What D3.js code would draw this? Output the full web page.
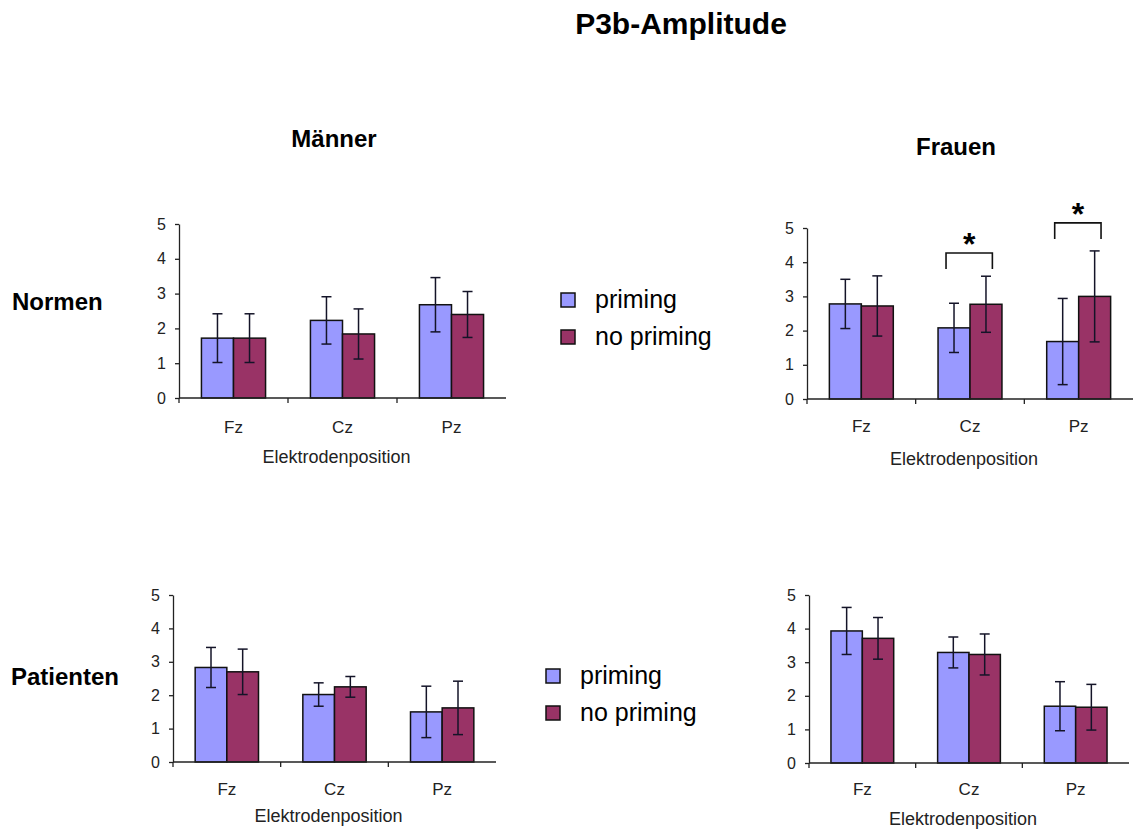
<!DOCTYPE html>
<html>
<head>
<meta charset="utf-8">
<script src="https://cdn.jsdelivr.net/npm/d3@7"></script>
<style>
  body { margin: 0; background: #fff; }
  svg { font-family: "Liberation Sans", Arial, sans-serif; }
  .axis path, .axis line { stroke: #222; stroke-width: 1.3; }
  .axis text { fill: #222; font-size: 16px; }
</style>
</head>
<body>
<svg width="1137" height="829"></svg>
<script>
const categories = ['Fz', 'Cz', 'Pz'];
const series = ['priming', 'no priming'];
const colors = ['#9999ff', '#993366'];
const yTicks = [0, 1, 2, 3, 4, 5];

// mean values, [priming, no priming] per electrode
const maennerNormen    = [[1.72, 1.72], [2.23, 1.84], [2.68, 2.40]];
const maennerNormenErr = [[0.70, 0.70], [0.68, 0.72], [0.78, 0.66]];
const frauenNormen     = [[2.78, 2.72], [2.08, 2.77], [1.68, 3.00]];
const frauenNormenErr  = [[0.72, 0.88], [0.72, 0.82], [1.26, 1.33]];
const maennerPat       = [[2.83, 2.70], [2.02, 2.25], [1.50, 1.62]];
const maennerPatErr    = [[0.60, 0.68], [0.35, 0.31], [0.77, 0.80]];
const frauenPat        = [[3.93, 3.71], [3.29, 3.23], [1.69, 1.66]];
const frauenPatErr     = [[0.70, 0.62], [0.46, 0.61], [0.73, 0.68]];

// significance brackets in Frauen/Normen: category, leg bottom, bracket top
const signif = [{cat: 'Cz', low: 3.80, high: 4.27}, {cat: 'Pz', low: 4.68, high: 5.15}];

const svg = d3.select('svg');

svg.append('text').attr('x', 681).attr('y', 34).attr('text-anchor', 'middle')
  .attr('font-size', 30).attr('font-weight', 'bold').text('P3b-Amplitude');
svg.append('text').attr('x', 334).attr('y', 147).attr('text-anchor', 'middle')
  .attr('font-size', 24).attr('font-weight', 'bold').text('Männer');
svg.append('text').attr('x', 956).attr('y', 155).attr('text-anchor', 'middle')
  .attr('font-size', 24).attr('font-weight', 'bold').text('Frauen');
svg.append('text').attr('x', 12).attr('y', 310)
  .attr('font-size', 24).attr('font-weight', 'bold').text('Normen');
svg.append('text').attr('x', 11).attr('y', 685)
  .attr('font-size', 24).attr('font-weight', 'bold').text('Patienten');

function panel(p) {
  const g = svg.append('g');
  const x = d3.scaleBand().domain(categories).range([p.left, p.right]);
  const x1 = d3.scaleBand().domain(series).range([0, x.bandwidth()]).paddingOuter(0.7);
  const y = d3.scaleLinear().domain([0, 5]).range([p.bottom, p.top]);

  const rows = [];
  categories.forEach((c, i) => series.forEach((s, j) => {
    rows.push({cat: c, ser: s, j: j, v: p.values[i][j], e: p.errors[i][j]});
  }));

  g.selectAll('rect.bar').data(rows).enter().append('rect')
    .attr('class', 'bar')
    .attr('x', d => x(d.cat) + x1(d.ser))
    .attr('y', d => y(d.v))
    .attr('width', x1.bandwidth())
    .attr('height', d => y(0) - y(d.v))
    .attr('fill', d => colors[d.j])
    .attr('stroke', '#111').attr('stroke-width', 1.5);

  const cap = 5;
  const eb = g.selectAll('g.err').data(rows).enter().append('g')
    .attr('stroke', '#141428').attr('stroke-width', 1.5);
  const cx = d => x(d.cat) + x1(d.ser) + x1.bandwidth() / 2;
  eb.append('line').attr('x1', cx).attr('x2', cx)
    .attr('y1', d => y(d.v - d.e)).attr('y2', d => y(d.v + d.e));
  eb.append('line').attr('x1', d => cx(d) - cap).attr('x2', d => cx(d) + cap)
    .attr('y1', d => y(d.v + d.e)).attr('y2', d => y(d.v + d.e));
  eb.append('line').attr('x1', d => cx(d) - cap).attr('x2', d => cx(d) + cap)
    .attr('y1', d => y(d.v - d.e)).attr('y2', d => y(d.v - d.e));

  g.append('g').attr('class', 'axis')
    .attr('transform', `translate(${p.left},0)`)
    .call(d3.axisLeft(y).tickValues(yTicks).tickFormat(d3.format('d'))
      .tickSize(4).tickPadding(9).tickSizeOuter(0));

  const xa = g.append('g').attr('class', 'axis')
    .attr('transform', `translate(0,${p.bottom})`);
  xa.append('line').attr('x1', p.left).attr('x2', p.right);
  xa.selectAll('line.tk').data(categories).enter().append('line')
    .attr('x1', d => x(d)).attr('x2', d => x(d)).attr('y1', 0).attr('y2', 5);
  xa.selectAll('text').data(categories).enter().append('text')
    .attr('x', d => x(d) + x.bandwidth() / 2).attr('y', p.catY - p.bottom)
    .attr('text-anchor', 'middle').style('font-size', '17px').text(d => d);

  g.append('text').attr('x', (p.left + p.right) / 2 - 6).attr('y', p.titleY)
    .attr('text-anchor', 'middle').attr('font-size', 18).attr('fill', '#222')
    .text('Elektrodenposition');

  if (p.signif) {
    p.signif.forEach(s => {
      const xl = x(s.cat) + x1('priming') + x1.bandwidth() * 0.25;
      const xr = x(s.cat) + x1('no priming') + x1.bandwidth() * 0.7;
      g.append('path')
        .attr('d', `M${xl},${y(s.low)}V${y(s.high)}H${xr}V${y(s.low)}`)
        .attr('fill', 'none').attr('stroke', '#111').attr('stroke-width', 1.6);
      g.append('text').attr('x', (xl + xr) / 2).attr('y', y(s.high) + 2)
        .attr('text-anchor', 'middle').attr('font-size', 32).attr('font-weight', 'bold')
        .text('*');
    });
  }
}

function legend(lx, ly) {
  const lg = svg.append('g').attr('transform', `translate(${lx},${ly})`);
  const it = lg.selectAll('g').data(series).enter().append('g')
    .attr('transform', (d, i) => `translate(0,${i * 37})`);
  it.append('rect').attr('width', 14).attr('height', 14)
    .attr('fill', (d, i) => colors[i]).attr('stroke', '#111').attr('stroke-width', 1.5);
  it.append('text').attr('x', 34).attr('y', 15).attr('font-size', 25).text(d => d);
}

panel({left: 179, right: 506, top: 224, bottom: 398, values: maennerNormen, errors: maennerNormenErr, catY: 433, titleY: 463});
panel({left: 807, right: 1133, top: 228, bottom: 399, values: frauenNormen, errors: frauenNormenErr, catY: 432, titleY: 465, signif: signif});
panel({left: 173, right: 496, top: 595, bottom: 762, values: maennerPat, errors: maennerPatErr, catY: 795, titleY: 822});
panel({left: 809, right: 1129, top: 595, bottom: 763, values: frauenPat, errors: frauenPatErr, catY: 795, titleY: 825});

legend(561, 293);
legend(546, 669);
</script>
</body>
</html>
